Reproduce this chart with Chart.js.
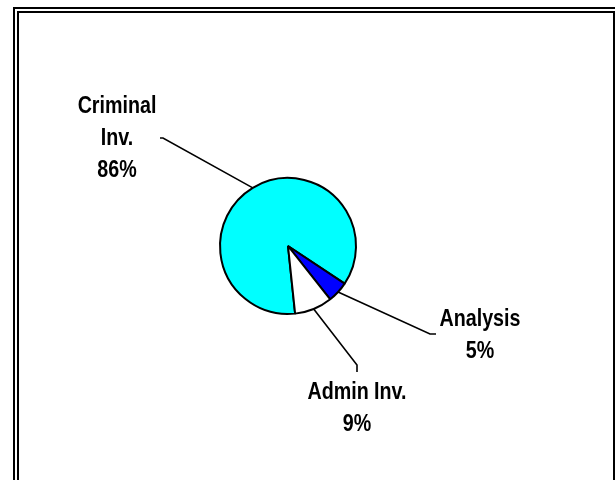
<!DOCTYPE html>
<html>
<head>
<meta charset="utf-8">
<script src="https://cdn.jsdelivr.net/npm/chart.js@4.4.1/dist/chart.umd.min.js"></script>
<style>
  body { margin: 0; background: #fff; }
  #grafico { display: block; }
</style>
</head>
<body>
<canvas id="grafico" width="615" height="480"></canvas>
<script>
// datos del grafico
var categorias = ['Criminal Inv.', 'Analysis', 'Admin Inv.'];
var porcentajes = [86, 5, 9];
var colores = ['#00FFFF', '#0000FF', '#FFFFFF'];
// texto de cada etiqueta, una linea por elemento
var etiquetas = [['Criminal', 'Inv.', '86%'], ['Analysis', '5%'], ['Admin Inv.', '9%']];

// posicion del codo de cada linea guia, relativa al centro del pie
var codos = [
  { dx: -125, dy: -108, tipo: 'izq' },
  { dx: 142, dy: 88, tipo: 'der' },
  { dx: 69, dy: 119, tipo: 'abajo' }
];

// no hay Arial Narrow, se angosta la fuente a mano
var fuente = "bold 24px 'Liberation Sans', Arial, sans-serif";
var angosto = 0.82;
var alto_linea = 32;

var marcoPlugin = {
  id: 'marco',
  afterDraw: function (chart) {
    var ctx = chart.ctx;
    ctx.save();
    ctx.strokeStyle = '#000';
    ctx.lineWidth = 2;
    ctx.strokeRect(14, 8, 700, 600);
    ctx.strokeRect(18, 12, 596, 600);
    ctx.restore();
  }
};

var etiquetasPlugin = {
  id: 'etiquetas',
  afterDatasetsDraw: function (chart) {
    var ctx = chart.ctx;
    var meta = chart.getDatasetMeta(0);
    ctx.save();
    ctx.strokeStyle = '#000';
    ctx.lineWidth = 1.6;
    ctx.fillStyle = '#000';
    ctx.font = fuente;
    ctx.textAlign = 'center';
    ctx.textBaseline = 'middle';
    meta.data.forEach(function (arc, i) {
      var mid = (arc.startAngle + arc.endAngle) / 2;
      var x0 = arc.x + Math.cos(mid) * arc.outerRadius;
      var y0 = arc.y + Math.sin(mid) * arc.outerRadius;
      var c = codos[i];
      var x1 = arc.x + c.dx;
      var y1 = arc.y + c.dy;
      var x2 = x1, y2 = y1;
      if (c.tipo == 'izq') x2 = x1 - 3;
      if (c.tipo == 'der') x2 = x1 + 6;
      if (c.tipo == 'abajo') y2 = y1 + 7;
      ctx.beginPath();
      ctx.moveTo(x0, y0);
      ctx.lineTo(x1, y1);
      ctx.lineTo(x2, y2);
      ctx.stroke();

      var lineas = etiquetas[i];
      var cx, cy;
      if (c.tipo == 'izq') {
        cx = x2 - 43;
        cy = y2 - (lineas.length - 1) * alto_linea / 2;
      } else if (c.tipo == 'der') {
        cx = x2 + 44;
        cy = y2 - 15;
      } else {
        cx = x2;
        cy = y2 + 20;
      }
      lineas.forEach(function (t, j) {
        ctx.save();
        ctx.translate(cx, cy + j * alto_linea);
        ctx.scale(angosto, 1);
        ctx.fillText(t, 0, 0);
        ctx.restore();
      });
    });
    ctx.restore();
  }
};

var ctx = document.getElementById('grafico').getContext('2d');
var grafico = new Chart(ctx, {
  type: 'pie',
  data: {
    labels: categorias,
    datasets: [{
      data: porcentajes,
      backgroundColor: colores,
      borderColor: '#000',
      borderWidth: 2,
      hoverOffset: 0
    }]
  },
  options: {
    responsive: false,
    animation: false,
    rotation: 174,
    layout: { padding: { left: 219, right: 258, top: 177, bottom: 165 } },
    plugins: {
      legend: { display: false },
      tooltip: { enabled: false }
    }
  },
  plugins: [etiquetasPlugin, marcoPlugin]
});
</script>
</body>
</html>
